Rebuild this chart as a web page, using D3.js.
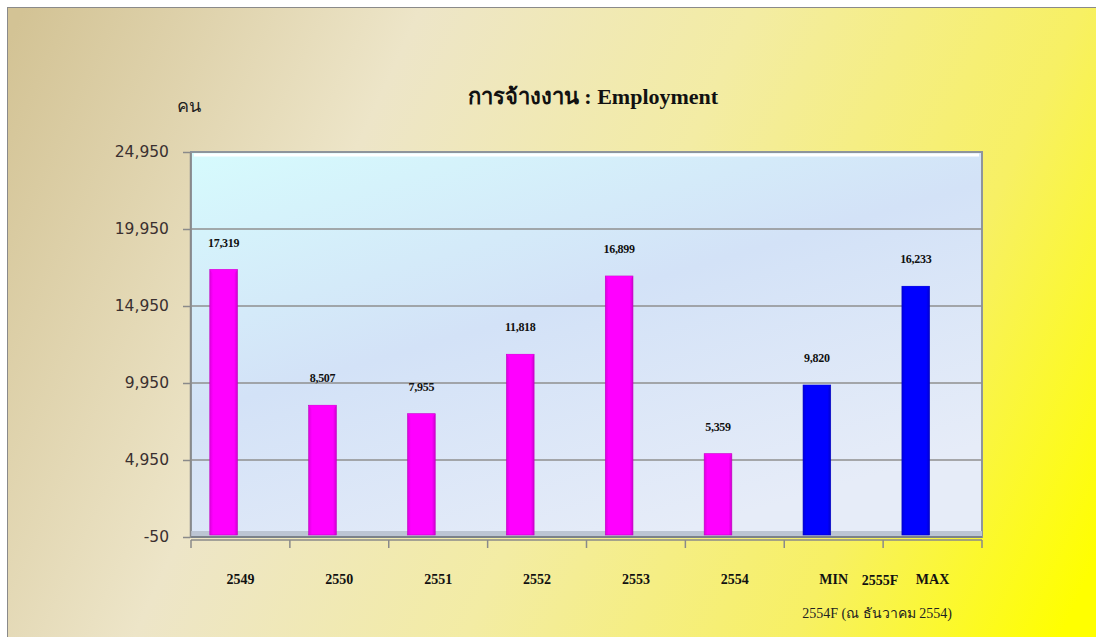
<!DOCTYPE html>
<html>
<head>
<meta charset="utf-8">
<script src="https://cdn.jsdelivr.net/npm/d3@7"></script>
<style>
  body { margin: 0; background: #fff; }
  svg { display: block; }
</style>
</head>
<body>
<div id="chart"></div>
<script>
const categories = ["2549", "2550", "2551", "2552", "2553", "2554", "MIN", "MAX"];
const values = [17319, 8507, 7955, 11818, 16899, 5359, 9820, 16233];
const barColors = ["#ff00ff", "#ff00ff", "#ff00ff", "#ff00ff", "#ff00ff", "#ff00ff", "#0000ff", "#0000ff"];
const yTicks = [-50, 4950, 9950, 14950, 19950, 24950];
const title = "การจ้างงาน : Employment";
const yUnit = "คน";
const groupLabel = "2555F";
const footNote = "2554F (ณ ธันวาคม 2554)";

const W = 1096, H = 637;
const plot = {left: 191, right: 982, top: 152, bottom: 537};

const svg = d3.select("#chart").append("svg")
    .attr("width", W)
    .attr("height", H);

const defs = svg.append("defs");

// background: tan on the left, yellow on the right
const bg = defs.append("linearGradient").attr("id", "bg")
    .attr("gradientUnits", "userSpaceOnUse")
    .attr("x1", 0).attr("y1", 60).attr("x2", W).attr("y2", 560);
bg.append("stop").attr("offset", "0%").attr("stop-color", "#d3c395");
bg.append("stop").attr("offset", "30%").attr("stop-color", "#ede5c8");
bg.append("stop").attr("offset", "55%").attr("stop-color", "#f3eca4");
bg.append("stop").attr("offset", "80%").attr("stop-color", "#f7f064");
bg.append("stop").attr("offset", "100%").attr("stop-color", "#ffff00");

// plot wall gradient
const wall = defs.append("linearGradient").attr("id", "wall")
    .attr("x1", "0%").attr("y1", "0%").attr("x2", "60%").attr("y2", "100%");
wall.append("stop").attr("offset", "0%").attr("stop-color", "#d6fbfd");
wall.append("stop").attr("offset", "50%").attr("stop-color", "#d3e2f7");
wall.append("stop").attr("offset", "100%").attr("stop-color", "#e6ecf8");

// bar shading
barColors.forEach((c, i) => {
    const g = defs.append("linearGradient").attr("id", "bar" + i)
        .attr("x1", "0%").attr("x2", "100%");
    g.append("stop").attr("offset", "0%").attr("stop-color", d3.color(c).darker(0.4));
    g.append("stop").attr("offset", "12%").attr("stop-color", c);
    g.append("stop").attr("offset", "88%").attr("stop-color", c);
    g.append("stop").attr("offset", "100%").attr("stop-color", d3.color(c).darker(0.6));
});

svg.append("rect")
    .attr("x", 0).attr("y", 0).attr("width", W).attr("height", H)
    .attr("fill", "#fff");
svg.append("rect")
    .attr("x", 7.5).attr("y", 7.5).attr("width", W + 10).attr("height", H)
    .attr("fill", "url(#bg)")
    .attr("stroke", "#8a8a8a")
    .attr("stroke-width", 1);

const x = d3.scaleBand().domain(categories).range([plot.left, plot.right]).padding(0);
const y = d3.scaleLinear().domain([-50, 24950]).range([plot.bottom, plot.top]);

// plot wall
svg.append("rect")
    .attr("x", plot.left).attr("y", plot.top)
    .attr("width", plot.right - plot.left).attr("height", plot.bottom - plot.top)
    .attr("fill", "url(#wall)")
    .attr("stroke", "#8e959c")
    .attr("stroke-width", 2);
// top highlight
svg.append("line")
    .attr("x1", plot.left + 3).attr("x2", plot.right - 3)
    .attr("y1", plot.top + 3).attr("y2", plot.top + 3)
    .attr("stroke", "#ffffff").attr("stroke-width", 3);
// floor
svg.append("rect")
    .attr("x", plot.left).attr("y", plot.bottom - 6)
    .attr("width", plot.right - plot.left).attr("height", 6)
    .attr("fill", "#bcc5d3");
svg.append("line")
    .attr("x1", plot.left).attr("x2", plot.right)
    .attr("y1", plot.bottom).attr("y2", plot.bottom)
    .attr("stroke", "#7b828a").attr("stroke-width", 2);

// gridlines
svg.append("g")
    .selectAll("line")
    .data(yTicks.slice(1, -1))
    .join("line")
    .attr("x1", plot.left).attr("x2", plot.right)
    .attr("y1", d => y(d)).attr("y2", d => y(d))
    .attr("stroke", "#8f8f8f")
    .attr("stroke-width", 1.5);

// y axis
const yAxis = svg.append("g")
    .attr("transform", `translate(${plot.left - 1},0)`)
    .call(d3.axisLeft(y).tickValues(yTicks)
        .tickFormat(d => d3.format(",")(d).replace("\u2212", "-"))
        .tickSize(7).tickSizeOuter(0).tickPadding(14));
yAxis.select(".domain").attr("stroke", "#8a8a8a").attr("stroke-width", 1.5);
yAxis.selectAll(".tick line").attr("stroke", "#8a8a8a").attr("stroke-width", 1.5);
yAxis.selectAll("text")
    .attr("font-family", "DejaVu Sans, sans-serif")
    .attr("font-size", 15.5)
    .attr("fill", "#3a3030");

// x axis boundary ticks
const xAxis = svg.append("g").attr("transform", `translate(0,${plot.bottom + 3})`);
xAxis.append("line")
    .attr("x1", plot.left).attr("x2", plot.right)
    .attr("stroke", "#8a8a8a").attr("stroke-width", 1.5);
xAxis.selectAll(".bt")
    .data(categories.map(c => x(c)).concat([x.range()[1]]))
    .join("line")
    .attr("class", "bt")
    .attr("x1", d => d).attr("x2", d => d)
    .attr("y1", 0).attr("y2", 8)
    .attr("stroke", "#8a8a8a").attr("stroke-width", 1.5);

// category labels
const labelAxis = svg.append("g")
    .attr("transform", `translate(0,${plot.bottom + 3})`)
    .call(d3.axisBottom(x).tickSize(0).tickPadding(34));
labelAxis.select(".domain").remove();
labelAxis.selectAll("text")
    .attr("font-family", "Liberation Serif, Times New Roman, serif")
    .attr("font-weight", "bold")
    .attr("font-size", 14)
    .attr("fill", "#111");

svg.append("text")
    .attr("x", x("MAX") - 3)
    .attr("y", plot.bottom + 48)
    .attr("text-anchor", "middle")
    .attr("font-family", "Liberation Serif, Times New Roman, serif")
    .attr("font-weight", "bold")
    .attr("font-size", 14)
    .attr("fill", "#111")
    .text(groupLabel);

svg.append("text")
    .attr("x", x("MAX") - 6)
    .attr("y", plot.bottom + 81)
    .attr("text-anchor", "middle")
    .attr("font-family", "Liberation Serif, Times New Roman, serif")
    .attr("font-size", 14)
    .attr("fill", "#222")
    .text(footNote);

// bars
const barOff = x.bandwidth() * 0.19;
const barW = x.bandwidth() * 0.28;
const bars = svg.append("g");
bars.selectAll("rect.bar")
    .data(values)
    .join("rect")
    .attr("class", "bar")
    .attr("x", (d, i) => x(categories[i]) + barOff)
    .attr("y", d => y(d))
    .attr("width", barW)
    .attr("height", d => y(-50) - y(d) - 2)
    .attr("fill", (d, i) => `url(#bar${i})`)
    .attr("stroke", (d, i) => d3.color(barColors[i]).darker(0.8))
    .attr("stroke-width", 0.6);
// top bevel
bars.selectAll("path.cap")
    .data(values)
    .join("path")
    .attr("class", "cap")
    .attr("d", (d, i) => {
        const x0 = x(categories[i]) + barOff, y0 = y(d);
        return `M${x0},${y0} L${x0 + barW},${y0} L${x0 + barW - 4},${y0 + 6} L${x0 + 4},${y0 + 6} Z`;
    })
    .attr("fill", (d, i) => d3.color(barColors[i]).brighter(0.6))
    .attr("opacity", 0.7);

// value labels
svg.append("g").selectAll("text")
    .data(values)
    .join("text")
    .attr("x", (d, i) => x(categories[i]) + barOff + barW / 2)
    .attr("y", d => y(d) - 23)
    .attr("text-anchor", "middle")
    .attr("font-family", "Liberation Serif, Times New Roman, serif")
    .attr("font-weight", "bold")
    .attr("font-size", 12)
    .attr("letter-spacing", -0.3)
    .attr("fill", "#111")
    .text(d => d3.format(",")(d));

// title and unit
svg.append("text")
    .attr("x", 593)
    .attr("y", 104)
    .attr("text-anchor", "middle")
    .attr("font-family", "Liberation Serif, Times New Roman, serif")
    .attr("font-weight", "bold")
    .attr("font-size", 22)
    .attr("fill", "#111")
    .text(title);

svg.append("text")
    .attr("x", 189)
    .attr("y", 112)
    .attr("text-anchor", "middle")
    .attr("font-family", "Liberation Serif, Times New Roman, serif")
    .attr("font-size", 18)
    .attr("fill", "#222")
    .text(yUnit);
</script>
</body>
</html>
